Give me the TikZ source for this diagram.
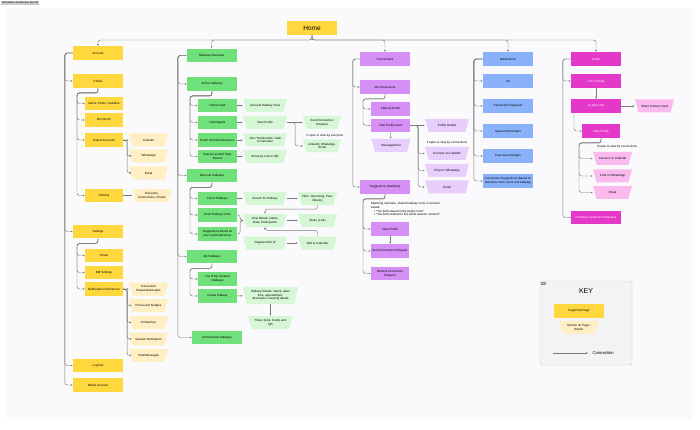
\documentclass[tikz,border=0pt]{standalone}
\usepackage{fontspec}
\setmainfont{Liberation Sans}
\usepackage{xcolor}
\usepackage{tikz}
\usetikzlibrary{arrows.meta,positioning}
\definecolor{linegray}{RGB}{122,122,122}
\definecolor{canvas}{RGB}{250,249,252}
\definecolor{pageyellow}{RGB}{255,216,61}
\definecolor{secyellow}{RGB}{255,239,194}
\definecolor{pagegreen}{RGB}{112,224,122}
\definecolor{secgreen}{RGB}{214,247,214}
\definecolor{pagepurple}{RGB}{214,143,245}
\definecolor{secpurple}{RGB}{232,206,250}
\definecolor{pageblue}{RGB}{138,178,250}
\definecolor{pagemagenta}{RGB}{228,56,200}
\definecolor{secpink}{RGB}{250,186,238}
\definecolor{keygray}{RGB}{243,243,245}
\newcommand{\boxfont}{\fontsize{3}{3.6}\selectfont}

\begin{document}
\begin{tikzpicture}[
  x=1pt, y=-1pt,
  page/.style={rectangle,fill=#1,minimum width=50pt,minimum height=13.5pt,
               inner sep=0.5pt,align=center,font=\boxfont},
  sub/.style={page=#1,minimum width=38pt},
  section/.style={rectangle,minimum width=39pt,minimum height=13pt,inner sep=0.5pt,
                  align=center,font=\boxfont,
                  path picture={\fill[#1] (path picture bounding box.north west)
                    -- (path picture bounding box.north east)
                    -- ([xshift=-3.6pt]path picture bounding box.south east)
                    -- ([xshift=3.6pt]path picture bounding box.south west) -- cycle;}},
  note/.style={font=\boxfont,inner sep=0pt},
  arrow/.style={-{Latex[length=2pt,width=1.8pt]},draw=linegray,line width=0.45pt,
                rounded corners=2.5pt}
]
\useasboundingbox[fill=white] (0,0) rectangle (700,430);
\fill[canvas] (7,8) rectangle (692,420);
\node[fill=black!20,font=\fontsize{2.6}{3}\selectfont,inner sep=0.6pt,anchor=north west]
  (title) at (1,1) {Information Architecture (ed v2)};

% home
\node[page=pageyellow,minimum height=14pt,font=\fontsize{6.5}{7}\selectfont] (home) at (312,28) {Home};
\coordinate (hbus) at (312,40);

% account
\node[page=pageyellow] (acct) at (98,53) {Account};
\node[page=pageyellow] (profile) at (98,81) {Profile};
\node[page=pageyellow] (settings) at (98,231.5) {Settings};
\node[page=pageyellow] (logout) at (98,365.5) {Log Out};
\node[page=pageyellow] (delacct) at (98,385) {Delete Account};
\foreach \n in {profile,settings,logout,delacct}
  \draw[arrow] (acct.west) -- ++(-8,0) |- (\n.west);

\node[sub=pageyellow] (nameph) at (104,103.5) {Name, Photo, Headline};
\node[sub=pageyellow] (bio) at (104,120) {Bio (short)};
\node[sub=pageyellow] (linked) at (104,140) {Linked Accounts};
\node[sub=pageyellow] (visib) at (104,195.5) {Visibility};
\foreach \n in {nameph,bio,linked,visib}
  \draw[arrow] (profile.south) |- ++(-21,5) |- (\n.west);

\node[section=secyellow] (lnkli) at (148.5,140) {LinkedIn};
\node[section=secyellow] (lnkwa) at (148.5,156) {WhatsApp};
\node[section=secyellow] (lnkem) at (148.5,173) {Email};
\draw[arrow] (linked) -- (lnkli);
\foreach \n in {lnkwa,lnkem}
  \draw[arrow] (linked.east) -- ++(4,0) |- (\n.west);
\node[section=secyellow] (visopt) at (152,195.5) {Everyone,\\Connections, Private};
\draw[arrow] (visib) -- (visopt);

\node[sub=pageyellow] (semail) at (104,255.5) {Email};
\node[sub=pageyellow] (sdm) at (104,272.5) {DM Settings};
\node[sub=pageyellow] (snotif) at (104,289) {Notification Preferences};
\foreach \n in {semail,sdm,snotif}
  \draw[arrow] (settings.south) |- ++(-21,5) |- (\n.west);

\node[section=secyellow] (np1) at (148.5,289) {Connection\\Requests/Accepts};
\node[section=secyellow] (np2) at (148.5,305.5) {Post-event Nudges};
\node[section=secyellow] (np3) at (148.5,322.5) {AI Matches};
\node[section=secyellow] (np4) at (148.5,339) {Session Reminders};
\node[section=secyellow] (np5) at (148.5,355.5) {Chat/Messages};
\draw[arrow] (snotif) -- (np1);
\foreach \n in {np2,np3,np4,np5}
  \draw[arrow] (snotif.east) -- ++(4,0) |- (\n.west);

% hallways
\node[page=pagegreen] (hall) at (211.5,55.5) {Hallways Overview};
\node[page=pagegreen] (active) at (212,84) {Active Hallways};
\node[page=pagegreen] (discover) at (212,175.5) {Discover Hallways};
\node[page=pagegreen] (myhall) at (212,256.5) {My Hallways};
\node[page=pagegreen] (archive) at (217,337.5) {Archive/Past Hallways};
\foreach \n in {active,discover,myhall,archive}
  \draw[arrow] (hall.west) -- ++(-8.5,0) |- (\n.west);

\node[sub=pagegreen,minimum width=39pt] (feed) at (217.5,105.5) {Home Feed};
\node[sub=pagegreen,minimum width=39pt] (partic) at (217.5,122.5) {Participants};
\node[sub=pagegreen,minimum width=39pt] (sched) at (217.5,140) {Event Schedule/Sessions};
\node[sub=pagegreen,minimum width=39pt] (rooms) at (217.5,156.5) {Session-Linked Topic\\Rooms};
\foreach \n in {feed,partic,sched,rooms}
  \draw[arrow] (active.south) |- ++(-22,5) |- (\n.west);

\node[section=secgreen,minimum width=44pt] (chat) at (265,105.5) {General Hallway Chat};
\node[section=secgreen,minimum width=44pt] (vprof) at (265,122.5) {View Profile};
\node[section=secgreen,minimum width=44pt] (join) at (265,140) {Join / Remind Me / Add\\to Calendar};
\node[section=secgreen,minimum width=44pt] (share) at (265,156.5) {Share by Link or QR};
\draw[arrow] (feed) -- (chat);
\draw[arrow] (partic) -- (vprof);
\draw[arrow] (sched) -- (join);
\draw[arrow] (rooms) -- (share);

\node[section=secgreen,minimum width=38pt] (sendreq) at (322,122.5) {Send Connection\\Request};
\node[note] (note1) at (325,136) {If open to view by everyone};
\node[section=secgreen,minimum width=38pt] (lwe) at (322,146) {LinkedIn, WhatsApp,\\Email};
\draw[arrow] (vprof) -- (sendreq);
\draw[arrow] (vprof.east) -- ++(8,0) |- (lwe.west);

\node[sub=pagegreen,minimum width=39pt] (listh) at (217.5,198.5) {List of Hallways};
\node[sub=pagegreen,minimum width=39pt] (code) at (217.5,215) {Enter Hallway Code};
\node[sub=pagegreen,minimum width=39pt] (suggest) at (217.5,234) {Suggestions based on\\your event behaviour};
\foreach \n in {listh,code,suggest}
  \draw[arrow] (discover.south) |- ++(-22,5) |- (\n.west);

\node[section=secgreen,minimum width=44pt] (search) at (265,198.5) {Search for Hallway};
\node[section=secgreen] (filter) at (317.5,198.5) {Filter: Upcoming, Past,\\Industry};
\node[section=secgreen,minimum width=44pt] (details) at (265,220.5) {View Details, Name,\\Date, Participants};
\node[section=secgreen] (sharel) at (317.5,220.5) {Share (Link)};
\node[section=secgreen,minimum width=44pt] (register) at (265,243) {Register/Join (if};
\node[section=secgreen] (addcal) at (317.5,243) {Add to Calendar};
\draw[arrow] (listh) -- (search);
\draw[arrow] (code.east) -- ++(3,0) |- (details.west);
\draw[arrow] (suggest.east) -- ++(3,0) |- (details.west);
\draw[arrow] (search) -- (filter);
\draw[arrow] (filter.south) -- ++(0,4) -| (details.north);
\draw[arrow] (details) -- (sharel);
\draw[arrow] (addcal.north) -- ++(0,-6) -| (details.south);
\draw[arrow] (register) -- (addcal);

\node[sub=pagegreen,minimum width=39pt] (mycreated) at (217.5,279) {List of My Created\\Hallways};
\node[sub=pagegreen,minimum width=39pt] (create) at (217.5,296) {Create Hallway};
\foreach \n in {mycreated,create}
  \draw[arrow] (myhall.south) |- ++(-22,5) |- (\n.west);
\node[section=secgreen,minimum width=55pt,minimum height=17pt] (hdetails) at (270.5,295.5)
  {Hallway Details: Name, date/\\time, agenda/topic,\\description, meeting details};
\node[section=secgreen,minimum width=45pt] (hshare) at (270.5,322.5) {Share (Link, Code) and\\QR};
\draw[arrow] (create) -- (hdetails);
\draw[arrow] (hdetails) -- (hshare);

% connections
\node[page=pagepurple] (conn) at (385,59) {Connections};
\node[page=pagepurple] (allc) at (385,87) {All Connections};
\node[page=pagepurple] (sugg) at (385,187) {Suggestions (Matches)};
\foreach \n in {allc,sugg}
  \draw[arrow] (conn.west) -- ++(-7,0) |- (\n.west);

\node[sub=pagepurple,minimum width=39pt] (filt) at (390.5,109) {Filter by Event};
\node[sub=pagepurple,minimum width=39pt] (vpc) at (390.5,125.5) {View Profile Card};
\foreach \n in {filt,vpc}
  \draw[arrow] (allc.south) |- ++(-22,5) |- (\n.west);
\node[section=secpurple] (msg) at (391,145.5) {Message/Chat};
\node[section=secpurple,minimum width=44pt] (pdet) at (447,125.5) {Profile Details};
\node[note] (note2) at (447,143) {If open to view by connections};
\node[section=secpurple,minimum width=44pt] (cli) at (447,153.5) {Connect on LinkedIn};
\node[section=secpurple,minimum width=44pt] (cwa) at (447,170.5) {Chat on WhatsApp};
\node[section=secpurple,minimum width=44pt] (cem) at (447,187) {Email};
\draw[arrow] (vpc) -- (msg);
\draw[arrow] (vpc) -- (pdet);
\foreach \n in {cli,cwa,cem}
  \draw[arrow] (vpc.east) -- ++(8,0) |- (\n.west);

\node[note,anchor=north west,align=left] (why) at (371,202.5)
  {Matching rationale: shared hallway room or session\\based:\\
   \quad\textbullet\ ``You both stayed in the [topic] room''\\
   \quad\textbullet\ ``You both reacted to the same session moment''};
\node[sub=pagepurple] (svp) at (390,229) {View Profile};
\node[sub=pagepurple] (sreq) at (390,251) {Send Connection Request};
\node[sub=pagepurple] (sdis) at (390,273.5) {Dismiss Connection\\Request};
\foreach \n in {svp,sreq,sdis}
  \draw[arrow] (sugg.south) |- ++(-22,5) |- (\n.west);
\draw[arrow] (svp) -- (sreq);

% notifications
\node[page=pageblue] (notif) at (508,59) {Notifications};
\node[page=pageblue] (nall) at (508,81) {All};
\node[page=pageblue] (ncr) at (508,106) {Connection Requests};
\node[page=pageblue] (nsr) at (508,131) {Session Reminders};
\node[page=pageblue] (npn) at (508,156) {Post-event Nudges};
\node[page=pageblue] (ncs) at (508,181) {Connection Suggestions (based on\\behaviour from event and hallway)};
\foreach \n in {nall,ncr,nsr,npn,ncs}
  \draw[arrow] (notif.west) -- ++(-9,0) |- (\n.west);

% chats
\node[page=pagemagenta,text=white] (chats) at (596,59) {Chats};
\node[page=pagemagenta,text=white] (clist) at (596,81) {List of Chats};
\node[page=pagemagenta,text=white] (inapp) at (596,106) {In-App Chat};
\node[page=pagemagenta,text=white] (pending) at (596,217.5) {Pending Connection Requests};
\foreach \n in {clist,pending}
  \draw[arrow] (chats.west) -- ++(-8,0) |- (\n.west);
\draw[arrow] (clist) -- (inapp);
\node[section=secpink] (sharecard) at (654.5,106) {Share Contact Card};
\draw[arrow] (inapp) -- (sharecard);
\node[sub=pagemagenta,text=white] (mvp) at (601,131) {View Profile};
\draw[arrow] ([xshift=-22pt]inapp.south) |- (mvp.west);
\node[note] (note3) at (617,147) {If open to view by connections};
\node[section=secpink] (mli) at (612.5,158.5) {Connect on LinkedIn};
\node[section=secpink] (mwa) at (612.5,176) {Chat on WhatsApp};
\node[section=secpink] (mem) at (612.5,192.5) {Email};
\foreach \n in {mli,mwa,mem}
  \draw[arrow] (mvp.south) |- ++(-22,5) |- (\n.west);

% home to sections
\foreach \c in {acct,hall,conn,notif,chats}
  \draw[arrow] (home.south) |- (\c.north |- hbus) -- (\c.north);

% key
\node[draw=black!22,fill=keygray,rounded corners=1.5pt,minimum width=92pt,minimum height=84pt]
  (keyframe) at (586,323) {};
\node[fill=black!45,text=white,font=\fontsize{2.4}{3}\selectfont,inner sep=0.6pt,anchor=north west]
  (keytag) at ([shift={(1,1)}]keyframe.north west) {Key};
\node[font=\fontsize{7}{8}\selectfont] (keytitle) at (586,291) {KEY};
\node[page=pageyellow] (keypage) at (579,311) {Page/Sub-Page};
\node[section=secyellow,below=3pt of keypage] (keysec) {Section on Page /\\Button};
\coordinate (keya) at (553,353);
\coordinate (keyb) at (588,353);
\draw[-{Latex[length=2pt,width=1.8pt]},draw=linegray,line width=0.45pt] (keya) -- (keyb);
\node[font=\fontsize{4.2}{5}\selectfont,right=1pt of keyb] (keyconn) {Connection};
\end{tikzpicture}
\end{document}
